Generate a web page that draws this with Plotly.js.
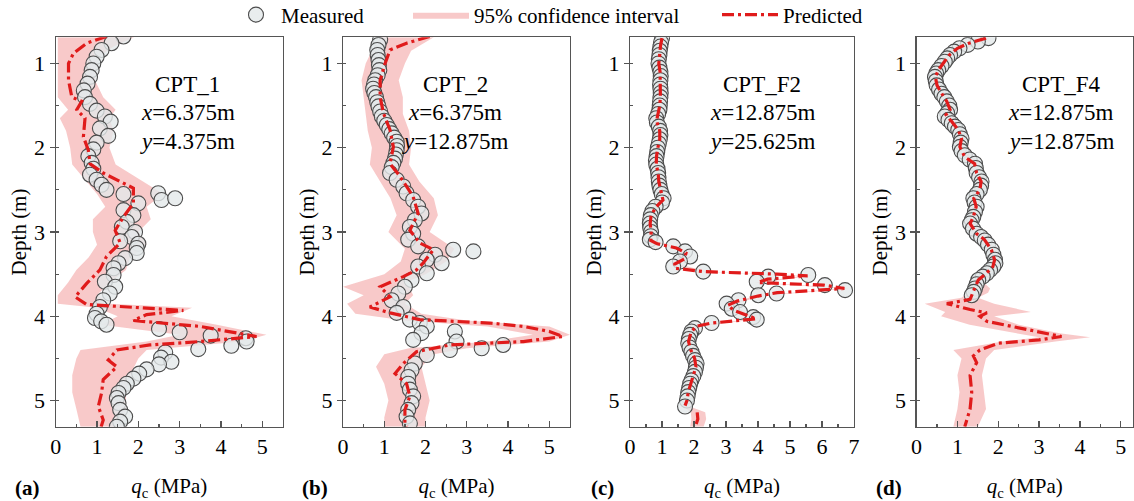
<!DOCTYPE html>
<html>
<head>
<meta charset="utf-8">
<script src="https://cdn.plot.ly/plotly-3.0.1.min.js"></script>
<style>html,body{margin:0;padding:0;background:#fff;}#chart{width:1134px;height:501px;}</style>
</head>
<body>
<div id="chart"></div>
<script>
// ---------- Panel (a) CPT_1 ----------
const dM_a = [0.68,0.76,0.84,0.92,1.00,1.08,1.16,1.24,1.32,1.40,1.48,1.56,1.63,1.69,1.77,1.86,1.94,2.02,2.10,2.18,2.25,2.32,2.38,2.44,2.50,2.55,2.54,2.62,2.60,2.66,2.74,2.80,2.88,2.94,3.00,3.06,3.11,3.14,3.19,3.25,3.31,3.37,3.43,3.51,3.59,3.65,3.73,3.81,3.89,3.97,4.02,4.06,4.10,4.15,4.19,4.23,4.26,4.30,4.35,4.39,4.43,4.49,4.54,4.57,4.63,4.68,4.74,4.80,4.85,4.91,4.97,5.03,5.11,5.19,5.25,5.31];
const qM_a = [1.64,1.35,1.11,0.99,0.91,0.87,0.83,0.77,0.68,0.71,0.83,0.99,1.19,1.33,1.07,1.27,0.99,0.91,0.79,0.87,0.91,0.83,0.99,1.11,1.23,1.64,2.48,2.56,2.89,2.00,1.64,1.88,1.72,1.60,1.92,1.84,1.56,2.00,1.96,1.96,1.68,1.52,1.40,1.40,1.19,1.44,1.31,1.15,1.07,0.99,0.95,1.10,1.23,2.50,3.00,3.75,4.60,4.62,4.25,3.45,2.65,2.55,2.80,2.50,2.20,2.02,1.88,1.72,1.64,1.52,1.48,1.52,1.56,1.68,1.56,1.48];
const dP_a = [0.68,0.76,0.88,1.00,1.20,1.40,1.45,1.55,1.65,1.87,2.03,2.19,2.30,2.38,2.48,2.66,2.82,2.98,3.13,3.29,3.45,3.61,3.77,3.86,3.89,3.93,3.98,4.05,4.12,4.20,4.24,4.30,4.34,4.40,4.52,4.60,4.75,4.91,5.07,5.23,5.31];
const qP_a = [1.23,0.75,0.43,0.31,0.31,0.39,0.63,0.51,0.71,0.67,0.79,0.83,1.15,1.48,1.88,1.88,1.64,1.44,1.56,1.23,1.07,0.75,0.47,0.75,1.72,3.09,2.20,1.88,3.49,4.38,4.86,3.49,2.28,1.48,1.27,1.48,1.15,1.11,1.03,1.15,1.10];
const dB_a = [0.69,0.80,0.90,1.00,1.20,1.40,1.55,1.65,1.80,2.00,2.20,2.40,2.55,2.70,2.85,3.00,3.15,3.30,3.45,3.60,3.75,3.85,3.90,4.00,4.10,4.22,4.30,4.40,4.50,4.70,4.90,5.10,5.31];
const lo_a = [0.05,0.05,0.05,0.05,0.05,0.05,0.30,0.10,0.25,0.35,0.40,0.75,1.00,1.20,0.90,0.90,1.00,0.80,0.50,0.30,0.05,0.05,1.00,1.50,1.10,3.00,2.20,0.60,0.50,0.40,0.40,0.50,0.60];
const hi_a = [1.90,1.40,1.10,1.00,0.95,1.15,1.45,1.30,1.40,1.30,1.45,2.10,2.60,2.20,2.30,2.00,2.20,1.80,1.70,1.30,1.00,1.30,3.30,2.80,3.90,5.10,4.50,2.20,2.00,1.80,1.70,1.70,1.60];

// ---------- Panel (b) CPT_2 ----------
const dM_b = [0.72,0.78,0.84,0.90,0.96,1.02,1.08,1.14,1.20,1.25,1.30,1.35,1.40,1.46,1.51,1.57,1.63,1.68,1.73,1.78,1.83,1.88,1.93,1.98,2.03,2.08,2.13,2.18,2.23,2.30,2.38,2.46,2.54,2.62,2.70,2.78,2.86,2.94,3.02,3.09,3.17,3.21,3.23,3.27,3.33,3.37,3.41,3.49,3.57,3.65,3.73,3.81,3.89,3.96,4.04,4.08,4.12,4.18,4.20,4.28,4.30,4.34,4.38,4.40,4.46,4.56,4.64,4.72,4.80,4.87,4.95,5.03,5.11,5.19,5.27];
const qM_b = [0.90,0.86,0.83,0.84,0.86,0.87,0.88,0.84,0.78,0.75,0.73,0.76,0.80,0.83,0.86,0.90,0.94,1.00,1.06,1.12,1.18,1.24,1.30,1.31,1.30,1.28,1.26,1.22,1.18,1.14,1.30,1.46,1.54,1.70,1.82,1.90,1.74,1.62,1.70,1.58,1.82,2.67,3.16,2.23,2.03,2.39,1.82,2.03,1.66,1.50,1.34,1.18,1.46,1.30,1.62,1.86,2.03,2.71,1.90,1.70,2.75,3.88,3.36,2.59,2.03,1.74,1.66,1.58,1.58,1.62,1.70,1.66,1.58,1.54,1.62];
const dP_b = [0.68,0.76,0.84,1.00,1.20,1.40,1.59,1.79,1.99,2.19,2.34,2.58,2.78,2.98,3.13,3.21,3.37,3.45,3.53,3.65,3.77,3.89,3.96,4.04,4.08,4.12,4.18,4.24,4.30,4.34,4.42,4.56,4.68,4.80,4.95,5.11,5.27,5.31];
const qP_b = [2.10,1.54,1.14,1.02,0.90,0.90,0.98,1.14,1.22,1.14,1.38,1.70,1.82,1.62,1.86,2.19,1.94,1.78,1.46,0.90,1.14,0.65,1.14,1.86,3.56,4.37,5.00,5.33,4.37,2.59,1.78,1.46,1.26,1.54,1.62,1.50,1.50,1.55];
const dB_b = [0.69,0.85,1.00,1.20,1.40,1.60,1.80,2.00,2.20,2.40,2.60,2.80,3.00,3.20,3.35,3.50,3.60,3.65,3.75,3.85,3.97,4.05,4.12,4.22,4.30,4.38,4.45,4.60,4.80,5.00,5.20,5.31];
const lo_b = [0.90,0.70,0.55,0.45,0.50,0.55,0.60,0.70,0.65,0.90,1.15,1.30,1.10,1.50,1.40,1.00,0.30,0.00,0.50,0.10,0.30,1.50,3.50,4.60,3.50,1.60,1.00,0.80,1.00,1.10,1.00,1.00];
const hi_b = [2.20,1.65,1.50,1.35,1.45,1.45,1.60,1.65,1.60,1.85,2.20,2.30,2.10,2.70,2.50,2.00,1.50,1.60,1.70,1.50,1.90,3.00,5.00,5.50,5.00,3.00,2.20,1.90,2.00,2.10,2.00,2.00];

// ---------- Panel (c) CPT_F2 ----------
const dM_c = [0.70,0.75,0.80,0.85,0.90,0.95,1.00,1.05,1.10,1.15,1.20,1.25,1.30,1.35,1.40,1.45,1.50,1.55,1.60,1.65,1.70,1.75,1.80,1.85,1.90,1.95,2.00,2.05,2.10,2.15,2.20,2.25,2.30,2.35,2.40,2.45,2.50,2.55,2.60,2.65,2.70,2.75,2.80,2.85,2.90,2.95,3.00,3.05,3.09,3.12,3.17,3.23,3.29,3.35,3.41,3.47,3.51,3.53,3.59,3.63,3.69,3.73,3.75,3.81,3.85,3.91,3.95,4.01,4.04,4.08,4.14,4.18,4.22,4.27,4.32,4.37,4.42,4.47,4.52,4.56,4.61,4.66,4.71,4.76,4.80,4.85,4.90,4.95,5.00,5.07];
const qM_c = [1.00,0.97,0.95,0.93,0.92,0.90,0.89,0.92,0.95,0.96,0.95,0.94,0.95,0.96,0.95,0.94,0.93,0.92,0.88,0.82,0.84,0.90,0.94,0.95,0.93,0.90,0.87,0.85,0.83,0.81,0.82,0.86,0.88,0.89,0.90,0.92,0.95,0.99,1.05,1.00,0.80,0.70,0.65,0.63,0.62,0.63,0.66,0.65,0.62,0.80,1.35,1.72,1.88,1.56,1.35,2.29,5.57,4.32,3.96,6.09,6.72,4.58,4.01,3.39,3.02,3.18,3.44,3.85,3.96,2.55,2.03,1.92,1.88,1.84,1.82,1.86,1.92,1.97,2.03,2.08,2.06,2.03,1.98,1.92,1.88,1.85,1.82,1.80,1.78,1.72];
const dP_c = [0.70,0.80,0.90,1.00,1.10,1.20,1.30,1.40,1.50,1.60,1.68,1.80,1.90,2.00,2.10,2.20,2.30,2.40,2.50,2.62,2.70,2.80,2.90,3.00,3.10,3.14,3.19,3.25,3.32,3.38,3.43,3.47,3.50,3.52,3.56,3.60,3.63,3.67,3.72,3.76,3.82,3.87,3.93,3.98,4.03,4.08,4.12,4.20,4.30,4.40,4.50,4.60,4.70,4.80,4.90,5.00,5.06,5.10,5.14,5.22,5.30];
const qP_c = [1.00,0.95,0.93,0.90,0.94,0.95,0.95,0.95,0.93,0.88,0.83,0.93,0.93,0.87,0.83,0.82,0.88,0.90,0.95,1.03,0.82,0.66,0.63,0.66,0.65,0.85,1.45,1.75,1.70,1.40,1.40,2.30,4.60,5.55,4.30,4.00,6.05,6.70,4.60,4.00,3.35,3.05,3.25,3.60,3.95,2.55,2.05,1.90,1.83,1.90,2.02,2.06,1.98,1.88,1.82,1.78,1.72,null,2.10,2.12,2.05];
const dB_c = [0.70,0.90,1.10,1.30,1.50,1.68,1.90,2.10,2.30,2.50,2.62,2.80,3.00,3.10,3.19,3.25,3.38,3.47,3.52,3.60,3.67,3.76,3.87,4.03,4.12,4.30,4.50,4.70,4.90,5.06,5.14,5.22,5.31];
const lo_c = [0.92,0.85,0.86,0.87,0.85,0.75,0.85,0.75,0.80,0.87,0.95,0.58,0.58,0.57,1.35,1.65,1.30,2.20,5.40,3.90,6.55,3.90,2.95,3.85,1.95,1.74,1.93,1.90,1.74,1.64,1.90,1.92,1.88];
const hi_c = [1.08,1.01,1.02,1.03,1.01,0.91,1.01,0.91,0.96,1.03,1.11,0.74,0.74,0.73,1.55,1.85,1.50,2.40,5.70,4.10,6.85,4.10,3.15,4.05,2.15,1.92,2.11,2.06,1.90,1.80,2.35,2.38,2.30];

// ---------- Panel (d) CPT_F4 ----------
const dM_d = [0.70,0.74,0.78,0.82,0.86,0.90,0.94,0.98,1.03,1.08,1.12,1.16,1.21,1.26,1.31,1.36,1.40,1.45,1.50,1.55,1.59,1.63,1.67,1.71,1.75,1.79,1.84,1.89,1.94,1.99,2.04,2.09,2.14,2.19,2.24,2.30,2.35,2.40,2.45,2.50,2.55,2.60,2.65,2.70,2.76,2.82,2.86,2.90,2.96,3.02,3.06,3.10,3.15,3.21,3.27,3.33,3.37,3.41,3.45,3.49,3.53,3.57,3.62,3.67,3.71,3.75];
const qM_d = [1.76,1.50,1.25,1.05,0.92,0.82,0.75,0.69,0.61,0.53,0.48,0.45,0.47,0.49,0.55,0.61,0.68,0.74,0.80,0.82,0.75,0.69,0.78,0.86,0.94,1.02,1.06,1.10,1.08,1.06,1.10,1.18,1.30,1.43,1.45,1.47,1.53,1.59,1.58,1.55,1.47,1.39,1.42,1.47,1.43,1.39,1.35,1.31,1.38,1.47,1.58,1.67,1.75,1.84,1.88,1.92,1.93,1.88,1.80,1.72,1.62,1.51,1.47,1.43,1.40,1.35];
const dP_d = [0.70,0.76,0.82,0.90,0.98,1.08,1.16,1.26,1.36,1.45,1.55,1.61,1.69,1.79,1.89,1.99,2.11,2.19,2.30,2.40,2.50,2.60,2.70,2.82,2.90,3.02,3.09,3.21,3.33,3.41,3.49,3.57,3.67,3.75,3.80,3.85,3.92,3.96,4.00,4.06,4.12,4.18,4.24,4.28,4.32,4.40,4.47,4.55,4.70,4.90,5.10,5.31];
const qP_d = [1.70,1.28,1.00,0.80,0.68,0.53,0.46,0.50,0.62,0.74,0.82,0.72,0.86,1.02,1.10,1.06,1.18,1.42,1.47,1.58,1.55,1.40,1.46,1.39,1.31,1.47,1.66,1.83,1.91,1.87,1.71,1.51,1.42,1.35,1.31,0.74,1.31,1.72,1.55,1.72,2.37,2.94,3.55,3.00,2.00,1.55,1.39,1.47,1.31,1.35,1.31,1.18];
const dB_d = [0.70,0.90,1.16,1.45,1.61,1.89,2.19,2.40,2.60,2.90,3.21,3.41,3.57,3.67,3.72,3.78,3.85,3.95,4.00,4.10,4.20,4.25,4.30,4.40,4.50,4.70,4.90,5.10,5.31];
const lo_d = [1.62,0.73,0.39,0.67,0.65,1.03,1.35,1.51,1.33,1.24,1.76,1.80,1.44,1.30,1.25,1.10,0.20,0.70,0.60,1.30,2.40,3.00,2.10,0.90,1.10,1.00,1.05,1.00,0.90];
const hi_d = [1.78,0.87,0.53,0.81,0.79,1.17,1.49,1.65,1.47,1.38,1.90,1.94,1.58,1.80,1.75,1.50,1.90,2.80,1.90,2.50,3.50,4.25,3.40,1.90,1.70,1.60,1.65,1.70,1.50];

const panels = [
  {dM:dM_a,qM:qM_a,dP:dP_a,qP:qP_a,dB:dB_a,lo:lo_a,hi:hi_a,name:'CPT_1',xs:'6.375',ys:'4.375',tag:'(a)',xmax:5.5,ticks:[0,1,2,3,4,5]},
  {dM:dM_b,qM:qM_b,dP:dP_b,qP:qP_b,dB:dB_b,lo:lo_b,hi:hi_b,name:'CPT_2',xs:'6.375',ys:'12.875',tag:'(b)',xmax:5.5,ticks:[0,1,2,3,4,5]},
  {dM:dM_c,qM:qM_c,dP:dP_c,qP:qP_c,dB:dB_c,lo:lo_c,hi:hi_c,name:'CPT_F2',xs:'12.875',ys:'25.625',tag:'(c)',xmax:7,ticks:[0,1,2,3,4,5,6,7]},
  {dM:dM_d,qM:qM_d,dP:dP_d,qP:qP_d,dB:dB_d,lo:lo_d,hi:hi_d,name:'CPT_F4',xs:'12.875',ys:'12.875',tag:'(d)',xmax:5.3,ticks:[0,1,2,3,4,5]}
];

const FONT = 'Liberation Serif, Times New Roman, serif';
const W = 1134, H = 501;
const xPix = [[55.7,283],[343,570],[630,854],[916.6,1133]];
const yTop = 37.3, yBot = 426.7;
const textCenters = [0.58,0.495,0.59,0.665];
const legFont = {family:FONT, size:21, color:'#000'};
const legBase = {orientation:'h', y:1 - 15/501, yanchor:'middle', xanchor:'left', font:legFont,
                 bgcolor:'rgba(0,0,0,0)', itemwidth:40, tracegroupgap:0};

const traces = [];
const layout = {
  width: W, height: H,
  margin: {l:0,r:0,t:0,b:0,pad:0, autoexpand:false},
  paper_bgcolor: '#fff', plot_bgcolor: '#fff',
  font: {family: FONT, size: 20, color: '#000'},
  showlegend: true,
  legend:  Object.assign({}, legBase, {x:231/W}),
  legend2: Object.assign({}, legBase, {x:408/W, itemwidth:56}),
  legend3: Object.assign({}, legBase, {x:717/W, itemwidth:56}),
  annotations: [],
};

panels.forEach((p, i) => {
  const k = i === 0 ? '' : String(i + 1);
  const xa = 'x' + k, ya = 'y' + k;
  const bx = p.lo.concat(p.hi.slice().reverse());
  const by = p.dB.concat(p.dB.slice().reverse());
  traces.push({type:'scatter', mode:'lines', x:bx, y:by, xaxis:xa, yaxis:ya,
    fill:'toself', fillcolor:'rgba(238,120,120,0.40)', line:{width:0, color:'rgba(0,0,0,0)'},
    name:'95% confidence interval', showlegend: i===0, legend:'legend2', hoverinfo:'skip'});
  traces.push({type:'scatter', mode:'markers', x:p.qM, y:p.dM, xaxis:xa, yaxis:ya,
    marker:{symbol:'circle', size:15, color:'rgba(228,232,234,0.8)', line:{color:'#4d4d4d', width:1.1}},
    name:'Measured', showlegend: i===0, legend:'legend'});
  traces.push({type:'scatter', mode:'lines', x:p.qP, y:p.dP, xaxis:xa, yaxis:ya,
    line:{color:'#e01b1b', width:3.2, dash:'12px,4px,3px,4px'},
    name:'Predicted', showlegend: i===0, legend:'legend3'});

  const dom = [xPix[i][0]/W, xPix[i][1]/W];
  layout['xaxis' + k] = {
    domain: dom, anchor: ya, range: [0, p.xmax], tickvals: p.ticks,
    showline:true, mirror:true, linecolor:'#555', linewidth:1.2,
    ticks:'inside', ticklen:6, tickwidth:1.2, tickcolor:'#555',
    minor:{dtick:0.5, tick0:0, ticks:'inside', ticklen:3, tickwidth:1.2, tickcolor:'#555'},
    showgrid:false, zeroline:false, tickfont:{family:FONT,size:22,color:'#000'},
    title:{text:'<i>q</i><sub>c</sub> (MPa)', font:{family:FONT,size:21,color:'#000'}, standoff:20}
  };
  layout['yaxis' + k] = {
    domain: [1 - yBot/H, 1 - yTop/H], anchor: xa, range: [5.31, 0.69],
    tickvals:[1,2,3,4,5],
    showline:true, mirror:true, linecolor:'#555', linewidth:1.2,
    ticks:'outside', ticklen:5, tickwidth:1.2, tickcolor:'#555',
    minor:{dtick:0.5, tick0:0.5, ticks:'inside', ticklen:3, tickwidth:1.2, tickcolor:'#555'},
    showgrid:false, zeroline:false, tickfont:{family:FONT,size:22,color:'#000'},
    title:{text:'Depth (m)', font:{family:FONT,size:21,color:'#000'}, standoff:1}
  };
  const tx = textCenters[i];
  const lines = [p.name, '<i>x</i>=' + p.xs + 'm', '<i>y</i>=' + p.ys + 'm'];
  const ypx = [84, 113, 141];
  lines.forEach((t, j) => layout.annotations.push({
    text:t, xref:xa + ' domain', yref:'paper', x:tx, y:1 - ypx[j]/H,
    xanchor:'center', yanchor:'middle', showarrow:false,
    font:{family:FONT,size:23,color:'#000'}
  }));
  layout.annotations.push({
    text:'<b>' + p.tag + '</b>', xref:'paper', yref:'paper',
    x:(xPix[i][0] - 28)/W, y:1 - 488/H, xanchor:'center', yanchor:'middle', showarrow:false,
    font:{family:FONT,size:21,color:'#000'}
  });
});

Plotly.newPlot('chart', traces, layout, {displayModeBar:false, staticPlot:true});
</script>
</body>
</html>
